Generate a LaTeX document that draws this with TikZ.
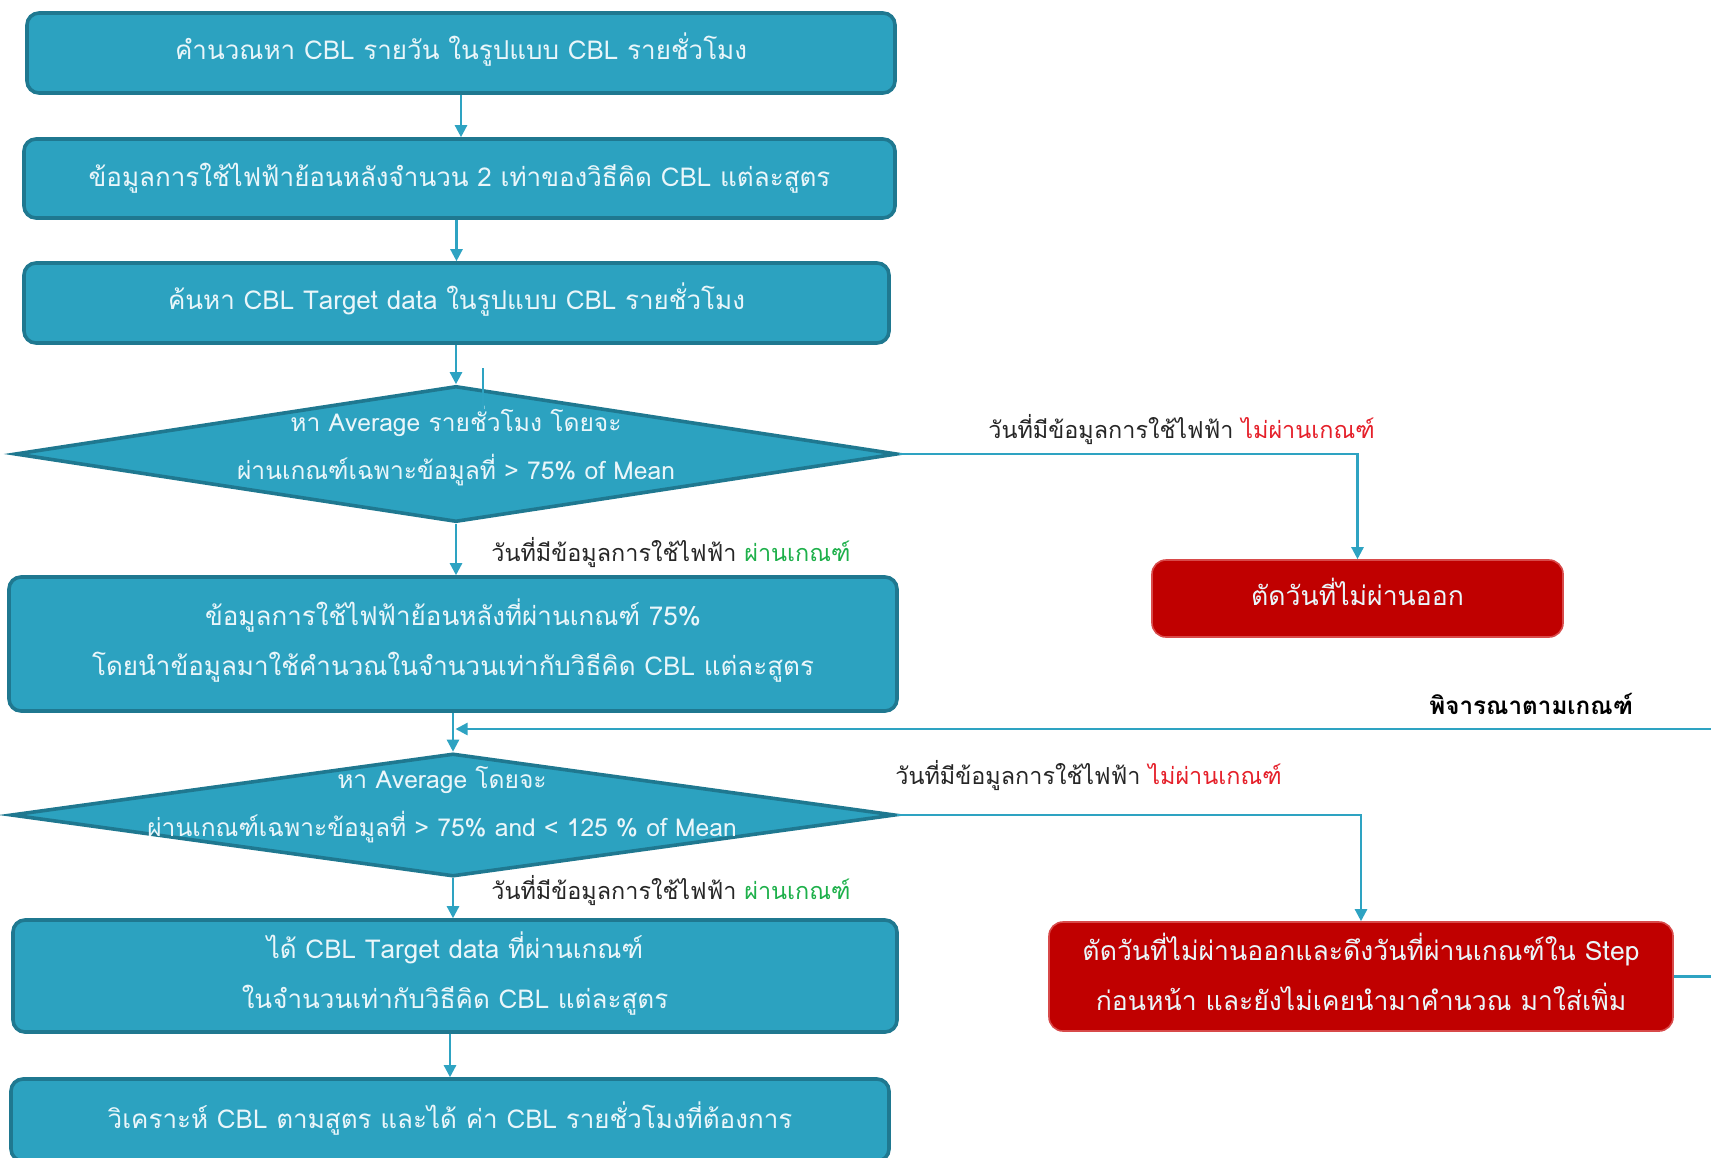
\documentclass[tikz,border=0pt]{standalone}
\usepackage{fontspec}
\setmainfont[Script=Thai]{Loma}
\usetikzlibrary{arrows.meta,shapes.geometric,calc}
\definecolor{tealfill}{HTML}{2CA2C0}
\definecolor{tealedge}{HTML}{1F7890}
\definecolor{linecol}{HTML}{2EA3C2}
\definecolor{redfill}{HTML}{C00000}
\definecolor{rededge}{HTML}{D84A4A}
\definecolor{boxtxt}{HTML}{EAF6FA}
\definecolor{okgreen}{HTML}{1DB04A}
\definecolor{nored}{HTML}{E5202A}
\newcommand\liftup[2]{\raisebox{#1}[\height][\depth]{\begin{tabular}{@{}c@{}}#2\end{tabular}}}
\begin{document}
\begin{tikzpicture}[x=0.5pt,y=-0.5pt,
  procbox/.style={draw=tealedge, line width=1.8pt, fill=tealfill, rounded corners=6pt,
    text=boxtxt, align=center, font=\fontsize{13}{25}\selectfont, inner sep=0pt},
  decbox/.style={diamond, draw=tealedge, line width=1.8pt, fill=tealfill, inner sep=0pt},
  dectext/.style={text=boxtxt, align=center, font=\fontsize{12.3}{24}\selectfont, inner sep=0pt},
  rejbox/.style={draw=rededge, line width=0.8pt, fill=redfill, rounded corners=7pt,
    text=boxtxt, align=center, font=\fontsize{13.3}{25}\selectfont, inner sep=0pt},
  plainline/.style={draw=linecol, line width=1.2pt},
  conn/.style={plainline, -{Triangle[length=6pt,width=6pt]}},
  lab/.style={anchor=west, font=\fontsize{11.7}{14}\selectfont, text=black!85, inner sep=0pt}
]
\useasboundingbox[fill=white] (0,0) rectangle (1711,1157);

\node[procbox, minimum width=434pt, minimum height=40pt] (b1) at (461,53)
  {\liftup{1.6pt}{คำนวณหา CBL รายวัน ในรูปแบบ CBL รายชั่วโมง}};
\node[procbox, minimum width=435.5pt, minimum height=39.5pt] (b2) at (459.5,178.5)
  {ข้อมูลการใช้ไฟฟ้าย้อนหลังจำนวน 2 เท่าของวิธีคิด CBL แต่ละสูตร};
\node[procbox, minimum width=432.5pt, minimum height=40pt] (b3) at (456.5,303)
  {\liftup{1.6pt}{ค้นหา CBL Target data ในรูปแบบ CBL รายชั่วโมง}};
\node[decbox, minimum width=441pt, minimum height=68pt] (d1) at (456,454) {};
\node[dectext] (d1t) at (456,446)
  {หา Average รายชั่วโมง โดยจะ\\ผ่านเกณฑ์เฉพาะข้อมูลที่ > 75\% of Mean};
\node[procbox, minimum width=444pt, minimum height=67pt] (b4) at (453,644)
  {\liftup{1.6pt}{ข้อมูลการใช้ไฟฟ้าย้อนหลังที่ผ่านเกณฑ์ 75\%\\โดยนำข้อมูลมาใช้คำนวณในจำนวนเท่ากับวิธีคิด CBL แต่ละสูตร}};
\node[decbox, minimum width=442pt, minimum height=61.5pt] (d2) at (453,815) {};
\node[dectext] (d2t) at (442,805)
  {หา Average โดยจะ\\ผ่านเกณฑ์เฉพาะข้อมูลที่ > 75\% and < 125 \% of Mean};
\node[procbox, minimum width=442pt, minimum height=56pt] (b5) at (455,976)
  {\liftup{1.4pt}{ได้ CBL Target data ที่ผ่านเกณฑ์\\ในจำนวนเท่ากับวิธีคิด CBL แต่ละสูตร}};
\node[procbox, minimum width=439pt, minimum height=41pt] (b6) at (450,1120)
  {\liftup{1pt}{วิเคราะห์ CBL ตามสูตร และได้ ค่า CBL รายชั่วโมงที่ต้องการ}};
\node[rejbox, minimum width=205.5pt, minimum height=38.5pt] (r1) at (1357.5,598.5)
  {\liftup{1.6pt}{ตัดวันที่ไม่ผ่านออก}};
\node[rejbox, minimum width=312pt, minimum height=54.5pt] (r2) at (1361,976.5)
  {\liftup{0.6pt}{ตัดวันที่ไม่ผ่านออกและดึงวันที่ผ่านเกณฑ์ใน Step\\ก่อนหน้า และยังไม่เคยนำมาคำนวณ มาใส่เพิ่ม}};

% connectors
\draw[conn] (b1.south) -- (b1.south |- b2.north);
\draw[conn] (b3.north |- b2.south) -- (b3.north);
\draw[conn] (d1.north |- b3.south) -- (d1.north);
\draw[conn] (d1.south) -- (d1.south |- b4.north);
\draw[conn] (d2.north |- b4.south) -- (d2.north);
\draw[conn] (d2.south) -- (d2.south |- b5.north);
\draw[conn] (b6.north |- b5.south) -- (b6.north);
\draw[conn] (d1.east) -| (r1.north);
\draw[conn] (d2.east) -| (r2.north);

% loop back (its vertical part lies beyond the right edge)
\coordinate (edgeA) at (1711,977);
\coordinate (edgeB) at (1711,729);
\coordinate (join) at (455.5,729);
\draw[plainline] (r2.east) -- (r2.east -| edgeA);
\draw[conn] (edgeB) -- (join);

% small stray tick
\coordinate (s1) at (483,368);
\coordinate (s2) at (483,412);
\draw[draw=linecol, line width=0.9pt] (s1) -- (s2);

% labels
\node[lab] (l1) at (988,430) {วันที่มีข้อมูลการใช้ไฟฟ้า \textcolor{nored}{ไม่ผ่านเกณฑ์}};
\node[lab] (l2) at (491,553) {วันที่มีข้อมูลการใช้ไฟฟ้า \textcolor{okgreen}{ผ่านเกณฑ์}};
\node[lab, font=\fontsize{12.1}{14}\selectfont\bfseries, text=black] (l3) at (1429,704) {พิจารณาตามเกณฑ์};
\node[lab] (l4) at (895,776) {วันที่มีข้อมูลการใช้ไฟฟ้า \textcolor{nored}{ไม่ผ่านเกณฑ์}};
\node[lab] (l5) at (491,891) {วันที่มีข้อมูลการใช้ไฟฟ้า \textcolor{okgreen}{ผ่านเกณฑ์}};
\end{tikzpicture}
\end{document}
